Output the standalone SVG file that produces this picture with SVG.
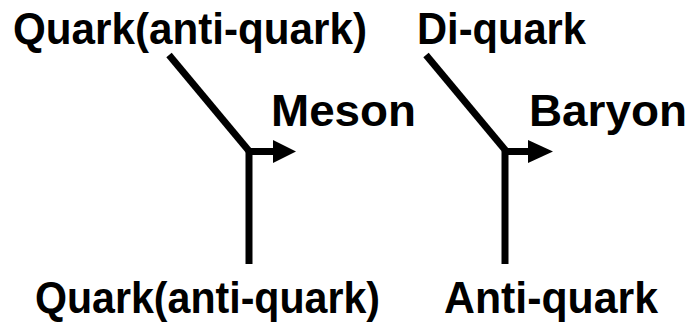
<svg xmlns="http://www.w3.org/2000/svg" width="693" height="323" viewBox="0 0 693 323">
<style>
.t{font-family:"Liberation Sans",Arial,sans-serif;font-weight:bold;font-size:45px;fill:#000}
.l{stroke:#000;stroke-width:7;fill:none}
</style>
<rect width="693" height="323" fill="#fff"/>
<g id="connectors">
<path class="l" d="M169,55 L249,151"/>
<path class="l" d="M249,151 L249,264"/>
<path class="l" d="M249,151.5 L275,151.5"/>
<polygon points="273,140 296,151.5 273,163" fill="#000"/>
<path class="l" d="M426,55 L506,151"/>
<path class="l" d="M505,151 L505,264"/>
<path class="l" d="M505,151.5 L530,151.5"/>
<polygon points="528,140 553,151.5 528,163" fill="#000"/>
</g>
<g id="quark-top"><text class="t" x="13" y="44" textLength="354" lengthAdjust="spacingAndGlyphs">Quark(anti-quark)</text></g>
<g id="diquark"><text class="t" x="417" y="44" textLength="169" lengthAdjust="spacingAndGlyphs">Di-quark</text></g>
<g id="meson"><text class="t" x="271" y="126" textLength="145" lengthAdjust="spacingAndGlyphs">Meson</text></g>
<g id="baryon"><text class="t" x="529" y="126" textLength="158" lengthAdjust="spacingAndGlyphs">Baryon</text></g>
<g id="quark-bottom"><text class="t" x="35" y="313" textLength="345" lengthAdjust="spacingAndGlyphs">Quark(anti-quark)</text></g>
<g id="antiquark"><text class="t" x="444" y="313" textLength="214" lengthAdjust="spacingAndGlyphs">Anti-quark</text></g>
</svg>
